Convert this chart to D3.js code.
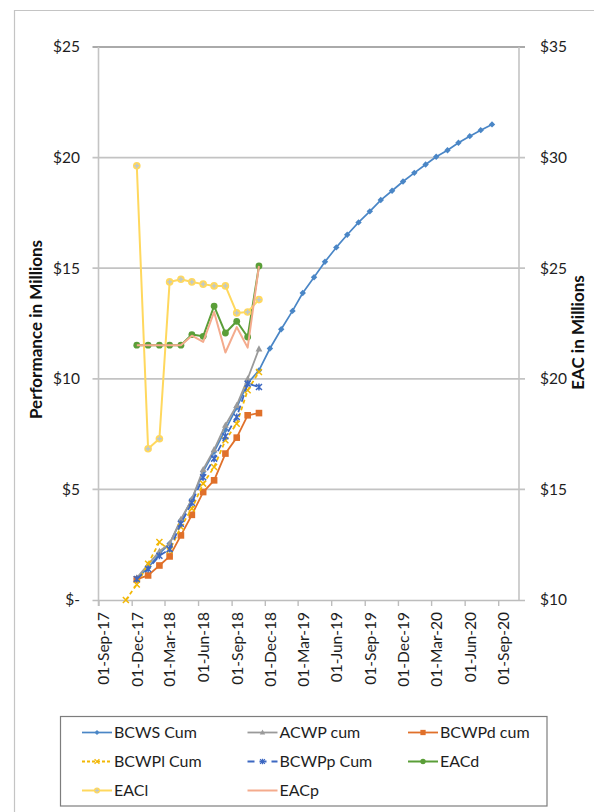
<!DOCTYPE html>
<html>
<head>
<meta charset="utf-8">
<script src="https://cdn.jsdelivr.net/npm/d3@7"></script>
<style>
  html, body { margin: 0; padding: 0; background: #fff; }
  svg { display: block; font-family: Lato, "Open Sans", "Liberation Sans", sans-serif; }
</style>
</head>
<body>
<svg id="chart" width="594" height="812"></svg>
<script>
// Reporting months (points sit mid-month)
const months = [
  "2017-11", "2017-12",
  "2018-01", "2018-02", "2018-03", "2018-04", "2018-05", "2018-06",
  "2018-07", "2018-08", "2018-09", "2018-10", "2018-11", "2018-12",
  "2019-01", "2019-02", "2019-03", "2019-04", "2019-05", "2019-06",
  "2019-07", "2019-08", "2019-09", "2019-10", "2019-11", "2019-12",
  "2020-01", "2020-02", "2020-03", "2020-04", "2020-05", "2020-06",
  "2020-07", "2020-08"
];

// Cumulative performance, $M (left axis), starting 2017-12
const bcwsCum = [0.98, 1.45, 2.1, 2.55, 3.6, 4.55, 5.8, 6.7, 7.7, 8.7, 9.8, 10.38,
  11.37, 12.24, 13.07, 13.88, 14.59, 15.29, 15.94, 16.51, 17.07, 17.57, 18.08,
  18.5, 18.92, 19.31, 19.69, 20.04, 20.33, 20.67, 20.97, 21.24, 21.5];
const acwpCum = [1.0, 1.6, 2.2, 2.55, 3.65, 4.55, 5.9, 6.8, 7.9, 8.8, 10.0, 11.35];
const bcwpdCum = [0.93, 1.11, 1.56, 1.97, 2.92, 3.85, 4.88, 5.41, 6.62, 7.34, 8.35, 8.45];
// starts 2017-11
const bcwplCum = [0, 0.7, 1.64, 2.62, 2.25, 3.3, 4.13, 5.26, 6.01, 7.22, 7.97, 9.48, 10.31];
const bcwppCum = [0.95, 1.4, 2.0, 2.3, 3.45, 4.4, 5.55, 6.39, 7.4, 8.27, 9.78, 9.63];

// Estimate at completion, $M (right axis), starting 2017-12
const eacD = [21.52, 21.52, 21.52, 21.52, 21.52, 22.0, 21.92, 23.29, 22.07, 22.6, 21.89, 25.1];
const eacL = [29.63, 16.84, 17.29, 24.38, 24.5, 24.38, 24.28, 24.2, 24.2, 22.98, 23.02, 23.58];
const eacP = [21.52, 21.52, 21.52, 21.52, 21.52, 21.95, 21.67, 23.02, 21.19, 22.34, 21.41, 25.1];

// Axis ticks
const leftTicks = [0, 5, 10, 15, 20, 25];
const rightTicks = [10, 15, 20, 25, 30, 35];
const xTicks = ["2017-09-01", "2017-12-01", "2018-03-01", "2018-06-01", "2018-09-01",
  "2018-12-01", "2019-03-01", "2019-06-01", "2019-09-01", "2019-12-01",
  "2020-03-01", "2020-06-01", "2020-09-01"];

const leftTitle = "Performance in Millions";
const rightTitle = "EAC in Millions";

const parseMonth = d3.timeParse("%Y-%m");
const parseDay = d3.timeParse("%Y-%m-%d");
const midMonth = s => d3.timeDay.offset(parseMonth(s), 14);

const svg = d3.select("#chart");

const plot = { left: 98.5, right: 519, top: 47, bottom: 600 };

const x = d3.scaleTime()
  .domain([parseDay("2017-09-01"), parseDay("2020-10-28")])
  .range([plot.left, plot.right]);
const y = d3.scaleLinear().domain([0, 25]).range([plot.bottom, plot.top]);
const y2 = d3.scaleLinear().domain([10, 35]).range([plot.bottom, plot.top]);

// outer chart border (left and top edges)
svg.append("path")
  .attr("d", "M14.5,812 L14.5,10.5 L594,10.5")
  .attr("fill", "none").attr("stroke", "#c4c4c4").attr("stroke-width", 1.2);

// horizontal gridlines with outside ticks on both sides
const grid = svg.append("g");
leftTicks.forEach(v => {
  if (v === 0) return;
  grid.append("line")
    .attr("x1", plot.left - 6).attr("x2", plot.right + 6)
    .attr("y1", y(v)).attr("y2", y(v))
    .attr("stroke", v === 25 ? "#8e8e8e" : "#c3c3c3")
    .attr("stroke-width", 1.7);
});

// vertical axis lines
svg.append("line").attr("x1", plot.left).attr("x2", plot.left)
  .attr("y1", plot.top).attr("y2", plot.bottom + 6)
  .attr("stroke", "#c4c4c4").attr("stroke-width", 1.6);
svg.append("line").attr("x1", plot.right).attr("x2", plot.right)
  .attr("y1", plot.top).attr("y2", plot.bottom)
  .attr("stroke", "#c4c4c4").attr("stroke-width", 1.6);

// x axis via d3.axisBottom
const xAxis = d3.axisBottom(x)
  .tickValues(xTicks.map(parseDay))
  .tickFormat(d3.timeFormat("%d-%b-%y"))
  .tickSize(6)
  .tickSizeOuter(0);
const gx = svg.append("g").attr("transform", `translate(0,${plot.bottom})`).call(xAxis);
gx.select(".domain").attr("d", `M${plot.left - 6},0.5H${plot.right + 6}`)
  .attr("stroke", "#bdbdbd").attr("stroke-width", 1.6);
gx.selectAll(".tick line").attr("stroke", "#bdbdbd").attr("stroke-width", 1.4);
gx.selectAll(".tick text")
  .attr("transform", "translate(5,12) rotate(-90)")
  .attr("x", 0).attr("y", 0).attr("dy", "0.35em")
  .attr("text-anchor", "end")
  .attr("font-size", 15.5).attr("fill", "#1e1e1e")
  .attr("font-family", "Lato, 'Open Sans', sans-serif");

// left axis labels
const fmtLeft = v => v === 0 ? "$-" : "$" + v;
svg.append("g").selectAll("text").data(leftTicks).join("text")
  .attr("x", 80).attr("y", d => y(d)).attr("dy", "0.35em")
  .attr("text-anchor", "end").attr("font-size", 15.5).attr("fill", "#1e1e1e")
  .text(fmtLeft);

// right axis labels
svg.append("g").selectAll("text").data(rightTicks).join("text")
  .attr("x", 540).attr("y", d => y2(d)).attr("dy", "0.35em")
  .attr("text-anchor", "start").attr("font-size", 15.5).attr("fill", "#1e1e1e")
  .text(d => "$" + d);

// axis titles
svg.append("text")
  .attr("transform", `translate(36,${(plot.top + plot.bottom) / 2 + 6}) rotate(-90)`)
  .attr("text-anchor", "middle").attr("dy", "0.35em")
  .attr("font-size", 17).attr("font-weight", "bold").attr("fill", "#111")
  .text(leftTitle);
svg.append("text")
  .attr("transform", `translate(578,${(plot.top + plot.bottom) / 2 + 9}) rotate(-90)`)
  .attr("text-anchor", "middle").attr("dy", "0.35em")
  .attr("font-size", 17).attr("font-weight", "bold").attr("fill", "#111")
  .text(rightTitle);

// marker painters: draw a marker of the given kind centred on (0,0)
function drawMarker(g, kind, color) {
  switch (kind) {
    case "diamond":
      g.append("path").attr("d", "M0,-3.2L3.2,0L0,3.2L-3.2,0Z").attr("fill", color);
      break;
    case "triangle":
      g.append("path").attr("d", "M0,-3.6L3.4,2.6L-3.4,2.6Z").attr("fill", color);
      break;
    case "square":
      g.append("rect").attr("x", -3.3).attr("y", -3.3).attr("width", 6.6).attr("height", 6.6)
        .attr("fill", color);
      break;
    case "x":
      g.append("path").attr("d", "M-3,-3L3,3M-3,3L3,-3")
        .attr("stroke", color).attr("stroke-width", 1.5).attr("fill", "none");
      break;
    case "star":
      g.append("path").attr("d", "M-3,-3L3,3M-3,3L3,-3M0,-3.5L0,3.5")
        .attr("stroke", color).attr("stroke-width", 1.5).attr("fill", "none");
      break;
    case "circle":
      g.append("circle").attr("r", 3.4).attr("fill", color);
      break;
    case "circlePlus":
      g.append("circle").attr("r", 3.8).attr("fill", color);
      g.append("path").attr("d", "M-2.4,0H2.4M0,-2.4V2.4")
        .attr("stroke", "#b9c7d3").attr("stroke-width", 1.4);
      break;
  }
}

const series = [
  { name: "BCWS Cum", values: bcwsCum, start: 1, axis: y, color: "#4a86c6", width: 1.7, dash: null, marker: "diamond" },
  { name: "ACWP cum", values: acwpCum, start: 1, axis: y, color: "#9a9a9a", width: 1.8, dash: null, marker: "triangle" },
  { name: "BCWPd cum", values: bcwpdCum, start: 1, axis: y, color: "#e0702a", width: 1.8, dash: null, marker: "square" },
  { name: "BCWPl Cum", values: bcwplCum, start: 0, axis: y, color: "#f2b705", width: 1.8, dash: "4,3", marker: "x" },
  { name: "BCWPp Cum", values: bcwppCum, start: 1, axis: y, color: "#3d68c2", width: 1.8, dash: "7,4", marker: "star" },
  { name: "EACd", values: eacD, start: 1, axis: y2, color: "#5a9e38", width: 2, dash: null, marker: "circle" },
  { name: "EACl", values: eacL, start: 1, axis: y2, color: "#ffd85e", width: 2, dash: null, marker: "circlePlus" },
  { name: "EACp", values: eacP, start: 1, axis: y2, color: "#f4ab8d", width: 2, dash: null, marker: null }
];

const plotG = svg.append("g");
series.forEach(s => {
  const pts = s.values.map((v, i) => ({ date: midMonth(months[s.start + i]), value: v }));
  const line = d3.line().x(d => x(d.date)).y(d => s.axis(d.value));
  const g = plotG.append("g");
  g.append("path").datum(pts).attr("d", line)
    .attr("fill", "none").attr("stroke", s.color).attr("stroke-width", s.width)
    .attr("stroke-dasharray", s.dash).attr("stroke-linejoin", "round");
  if (s.marker) {
    g.selectAll("g.m").data(pts).join("g").attr("class", "m")
      .attr("transform", d => `translate(${x(d.date)},${s.axis(d.value)})`)
      .each(function () { drawMarker(d3.select(this), s.marker, s.color); });
  }
});

// legend
const legend = svg.append("g");
legend.append("rect")
  .attr("x", 60.5).attr("y", 716.5).attr("width", 486.5).attr("height", 89.5)
  .attr("fill", "#fff").attr("stroke", "#7d7d7d").attr("stroke-width", 1.2);
const colX = [82, 247.5, 408];
const rowY = [732.5, 761.5, 790.5];
series.forEach((s, i) => {
  const cx = colX[i % 3], cy = rowY[Math.floor(i / 3)];
  const item = legend.append("g").attr("transform", `translate(${cx},${cy})`);
  item.append("line").attr("x1", 0).attr("x2", 30).attr("y1", 0).attr("y2", 0)
    .attr("stroke", s.color).attr("stroke-width", s.width)
    .attr("stroke-dasharray", s.dash ? (s.dash === "7,4" ? "7,5" : "3,2") : null);
  if (s.marker) {
    const mg = item.append("g").attr("transform", "translate(15,0) scale(0.8)");
    drawMarker(mg, s.marker, s.color);
  }
  item.append("text").attr("x", 32).attr("y", 0).attr("dy", "0.36em")
    .attr("font-size", 16).attr("fill", "#1e1e1e").text(s.name);
});
</script>
</body>
</html>
